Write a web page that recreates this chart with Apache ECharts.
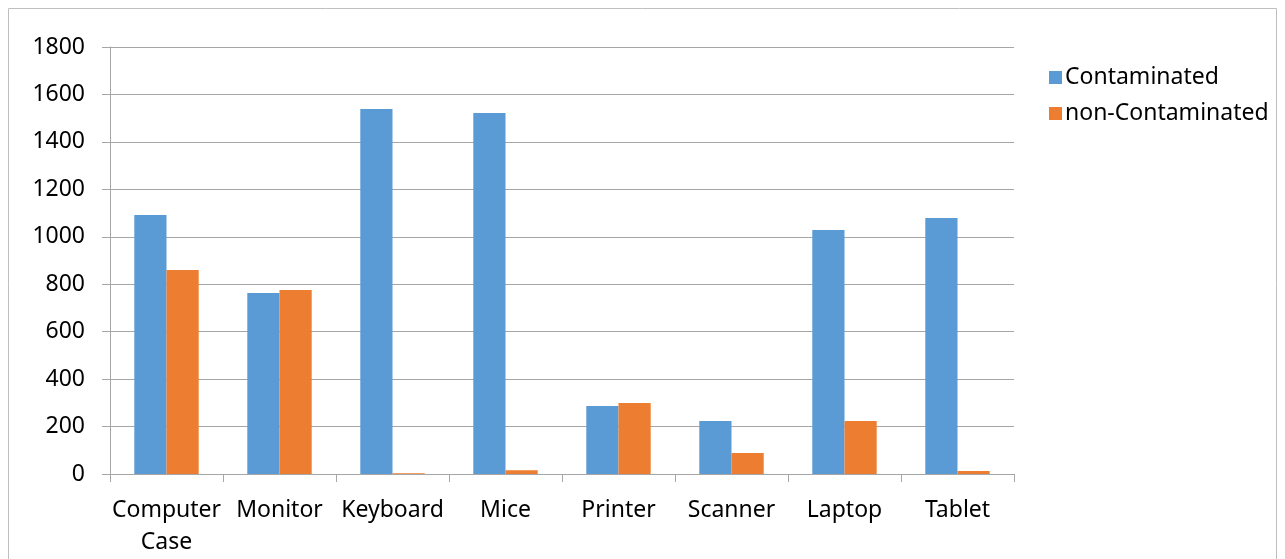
<!DOCTYPE html>
<html><head><meta charset="utf-8">
<script src="https://cdn.jsdelivr.net/npm/echarts@6/dist/echarts.min.js"></script>
<style>html,body{margin:0;padding:0;background:#fff}#c{width:1285px;height:559px}</style>
</head><body><div id="c"></div>
<script>
const categories = ['Computer\nCase','Monitor','Keyboard','Mice','Printer','Scanner','Laptop','Tablet'];
const contaminated = [1092, 763, 1539, 1522, 287, 223, 1029, 1079];
const nonContaminated = [860, 776, 3, 16, 299, 89, 223, 13];
const yTicks = [0, 200, 400, 600, 800, 1000, 1200, 1400, 1600, 1800];

const chart = echarts.init(document.getElementById('c'));
const font = 'Noto Sans, sans-serif';
chart.setOption({
  animation: false,
  backgroundColor: '#fff',
  graphic: [{type:'rect', shape:{x:8.5,y:8.5,width:1268,height:570}, style:{fill:'none', stroke:'#bfbfbf', lineWidth:1}}],
  grid: {left:110, top:47, right:271, bottom:85},
  legend: {
    orient:'vertical', left:1044, top:61, itemWidth:13, itemHeight:13, itemGap:13,
    icon:'rect',
    textStyle:{fontFamily:font, fontSize:23, color:'#000', padding:[0,0,0,-2]},
    data:['Contaminated','non-Contaminated']
  },
  xAxis: {
    type:'category', data:categories,
    axisLine:{lineStyle:{color:'#a6a6a6'}},
    axisTick:{show:true, length:8, lineStyle:{color:'#a6a6a6'}},
    axisLabel:{fontFamily:font, fontSize:23, color:'#000', margin:20, lineHeight:32, interval:0}
  },
  yAxis: {
    type:'value', min:0, max:1800, interval:200,
    axisLine:{show:true, lineStyle:{color:'#a6a6a6'}},
    axisTick:{show:true, length:8, lineStyle:{color:'#a6a6a6'}},
    splitLine:{lineStyle:{color:'#a6a6a6'}},
    axisLabel:{fontFamily:font, fontSize:23, color:'#000', margin:25,
      formatter: v => yTicks.includes(v) ? String(v) : ''}
  },
  series: [
    {name:'Contaminated', type:'bar', data:contaminated, barGap:'0%', barCategoryGap:'43%',
     itemStyle:{color:'#5b9bd5'}},
    {name:'non-Contaminated', type:'bar', data:nonContaminated, barGap:'0%', barCategoryGap:'43%',
     itemStyle:{color:'#ed7d31'}}
  ]
});
</script></body></html>
